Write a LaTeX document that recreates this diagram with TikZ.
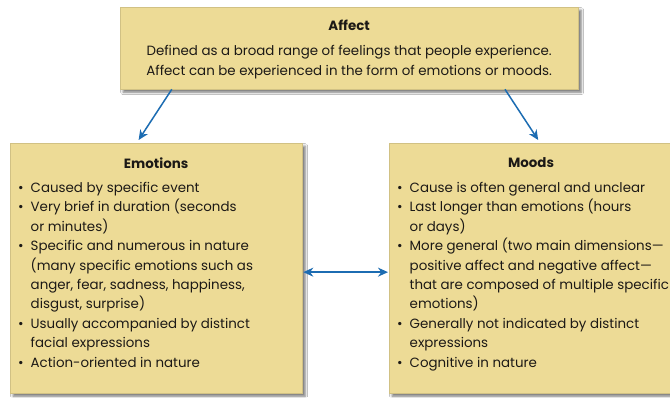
\documentclass[tikz,border=0pt]{standalone}
\usepackage{fontspec}
\setmainfont{Poppins}
\usetikzlibrary{shadows.blur,calc,arrows.meta}
\definecolor{panelfill}{RGB}{237,219,150}
\definecolor{linkblue}{RGB}{28,108,178}
\definecolor{inktext}{RGB}{28,25,22}
\newcommand\bitem[1]{\makebox[12.5pt][l]{\textbullet}#1}
\newcommand\bcont[1]{\hspace*{12.5pt}#1}
\begin{document}
\begin{tikzpicture}[x=1pt,y=-1pt,
  >={Stealth[length=10pt,width=9pt]},
  panel/.style={fill=panelfill, draw=panelfill!88!black, line width=0.3pt,
    blur shadow={shadow xshift=3pt, shadow yshift=-3pt, shadow blur radius=2.5pt, shadow opacity=55},
    anchor=north west, inner sep=0pt},
  heading/.style={font=\fontsize{13.4}{16}\selectfont\bfseries, text=inktext, inner sep=0pt},
  body/.style={font=\fontsize{13.4}{19.4}\selectfont, text=inktext, align=left, inner sep=0pt, anchor=north west},
  link/.style={draw=linkblue, line width=1.5pt}
]
\useasboundingbox (0,0) rectangle (670,397);
\fill[white] (0,0) rectangle (670,397);

% the three panels
\node[panel, minimum width=458pt, minimum height=82pt] (aff) at (120,7) {};
\node[panel, minimum width=292pt, minimum height=250pt] (emo) at (10,143) {};
\node[panel, minimum width=290pt, minimum height=250pt] (moo) at (389,143) {};

% top panel text
\node[heading] (afft) at ($(aff.north)+(0,18)$) {Affect};
\node[font=\fontsize{13.4}{20.5}\selectfont, text=inktext, align=center, inner sep=0pt] (affb)
  at ($(aff.north)+(0,55)$)
  {Defined as a broad range of feelings that people experience.\\
   Affect can be experienced in the form of emotions or moods.};

% emotions panel text
\node[heading] (emot) at ($(emo.north)+(0,20)$) {Emotions};
\node[body] (emob) at ($(emo.north west)+(8,39)$) {%
  \bitem{Caused by specific event}\\
  \bitem{Very brief in duration (seconds}\\
  \bcont{or minutes)}\\
  \bitem{Specific and numerous in nature}\\
  \bcont{(many specific emotions such as}\\
  \bcont{anger, fear, sadness, happiness,}\\
  \bcont{disgust, surprise)}\\
  \bitem{Usually accompanied by distinct}\\
  \bcont{facial expressions}\\
  \bitem{Action-oriented in nature}};

% moods panel text
\node[heading] (moot) at ($(moo.north west)+(142,20)$) {Moods};
\node[body] (moob) at ($(moo.north west)+(8,39)$) {%
  \bitem{Cause is often general and unclear}\\
  \bitem{Last longer than emotions (hours}\\
  \bcont{or days)}\\
  \bitem{More general (two main dimensions—}\\
  \bcont{positive affect and negative affect—}\\
  \bcont{that are composed of multiple specific}\\
  \bcont{emotions)}\\
  \bitem{Generally not indicated by distinct}\\
  \bcont{expressions}\\
  \bitem{Cognitive in nature}};

% connectors
\draw[link, ->] ($(aff.south west)!0.113!(aff.south east)$)
  -- ($(emo.north west)!0.44!(emo.north east)+(0,-3)$);
\draw[link, ->] ($(aff.south west)!0.84!(aff.south east)$)
  -- ($(moo.north west)!0.514!(moo.north east)+(0,-3)$);
\draw[link, <->] ($(emo.east)+(1,4)$) -- ($(moo.west)+(-1,4)$);
\end{tikzpicture}
\end{document}
